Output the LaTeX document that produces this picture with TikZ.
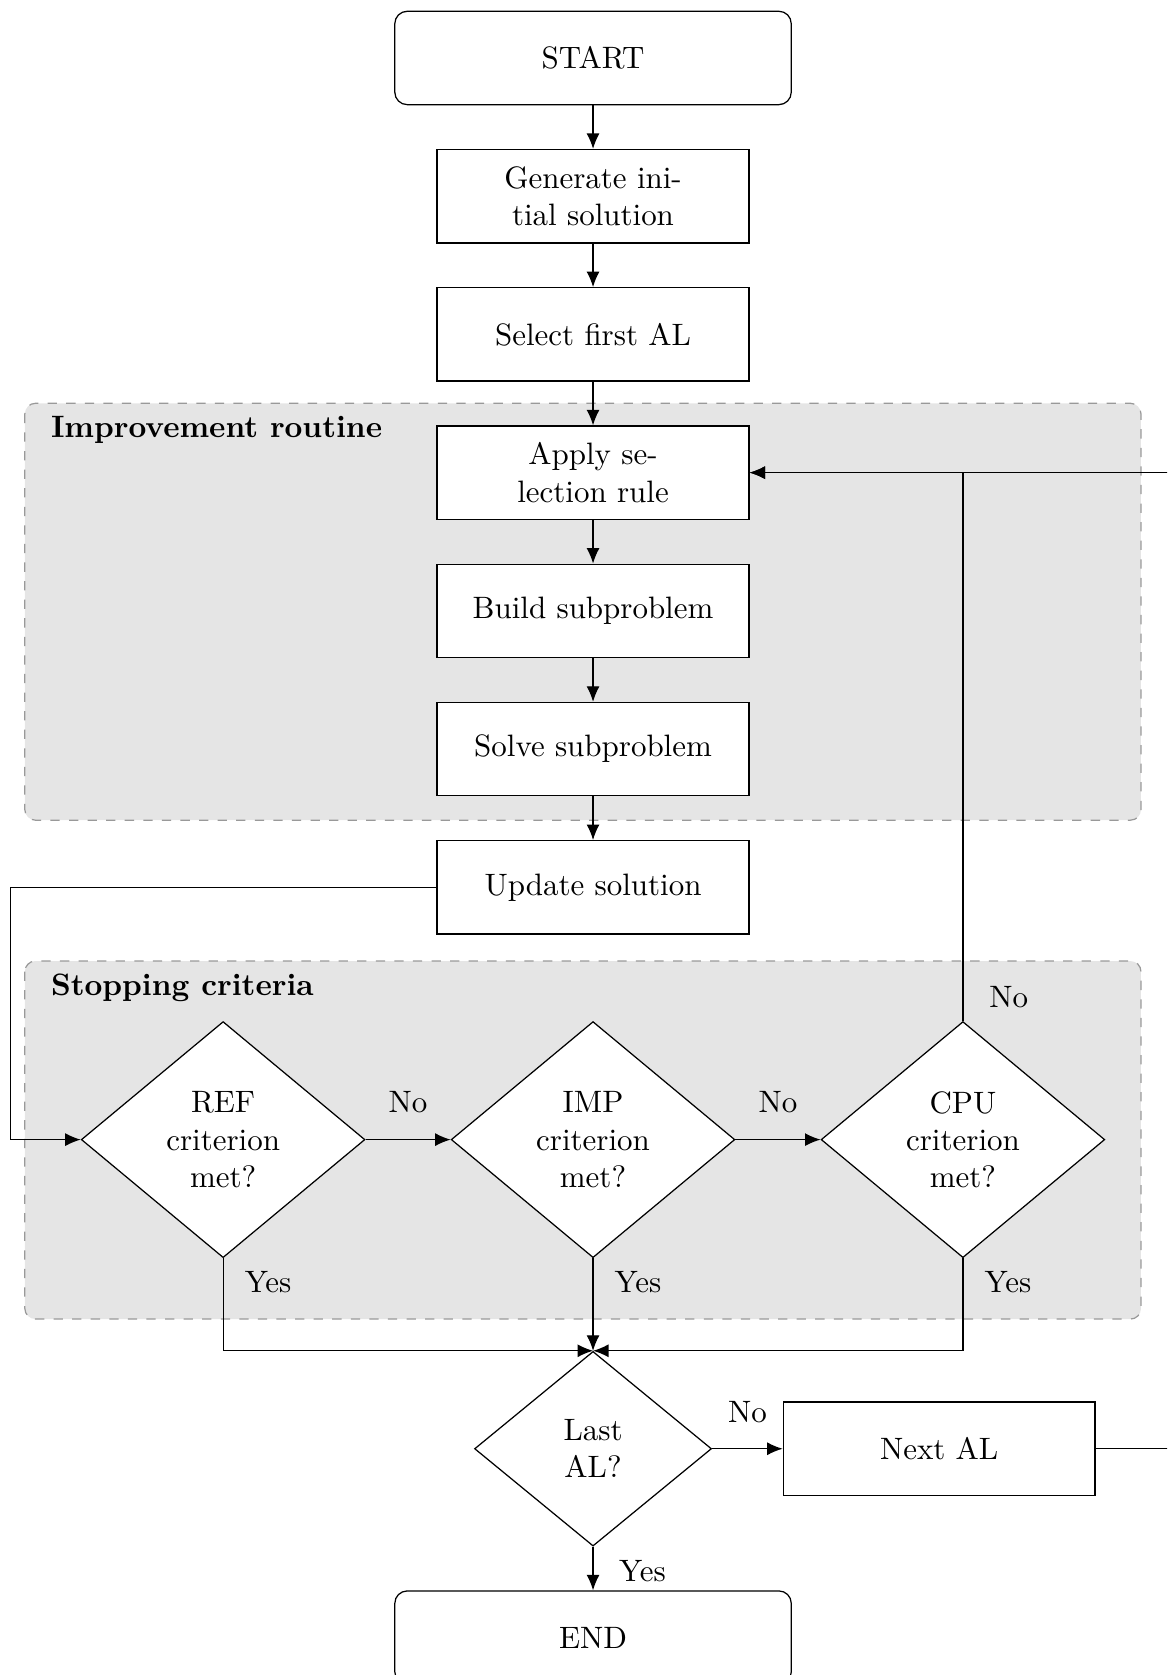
\documentclass[tikz,border=0pt]{standalone}
\usepackage{tikz}
\usetikzlibrary{shapes, arrows, arrows.meta, positioning, calc, backgrounds}

\begin{document}
\begin{tikzpicture} [
    node distance=0.495cm,
    terminal/.style={rectangle, rounded corners, draw=black, fill=white, minimum width=4.5cm, minimum height=1.06cm, text centered},
    process/.style={rectangle, draw=black, fill=white, minimum width=3.54cm, minimum height=1.06cm, align=center},
    decision/.style={diamond, draw=black, fill=white, aspect=1.2, inner sep=0pt, minimum width=3.22cm, minimum height=2.68cm, align=center},
    region/.style={draw=black!40, dashed, fill=black!10, rounded corners=0.12cm},
    regiontitle/.style={font=\bfseries, anchor=north west, inner sep=0pt},
    answer/.style={inner sep=0pt},
    arrow/.style={-{Latex[length=5pt, width=4.2pt]}}
]

% Picture frame (the loop back to the top runs off the right edge)
\useasboundingbox (-6.732,0.658) rectangle (6.516,-18.356);
\clip (-6.732,0.658) rectangle (6.516,-18.356);

% Main column
\node[terminal] (start) at (0,0) {START};
\node[process, below=of start] (gen) {Generate ini-\\tial solution};
\node[process, below=of gen] (select) {Select first AL};
\node[process, below=of select] (apply) {Apply se-\\lection rule};
\node[process, below=of apply] (build) {Build subproblem};
\node[process, below=of build] (solve) {Solve subproblem};
\node[process, below=of solve] (update) {Update solution};

% Stopping criteria
\node[decision, below=0.98cm of update] (imp) {IMP\\criterion\\met?};
\node[decision, left=0.965cm of imp] (ref) {REF\\criterion\\met?};
\node[decision, right=0.965cm of imp] (cpu) {CPU\\criterion\\met?};

\node[decision, below=1.05cm of imp, minimum width=2.69cm, minimum height=2.21cm] (last) {Last\\AL?};
\node[process, right=0.8cm of last] (next) {Next AL};
\node[terminal, below=of last] (finish) {END};

% Helper coordinates for the side lines and the grey regions
\coordinate (loopL) at (-6.61,0);
\coordinate (loopR) at (7,0);
\coordinate (regL) at (-6.45,0);
\coordinate (regR) at (6.22,0);

% Grey regions
\begin{scope}[on background layer]
    \draw[region] ($(apply.north -| regL)+(0,0.25)$) rectangle ($(solve.south -| regR)+(0,-0.27)$);
    \draw[region] ($(imp.north -| regL)+(0,0.68)$) rectangle ($(imp.south -| regR)+(0,-0.69)$);
\end{scope}
\node[regiontitle] at ($(apply.north -| regL)+(0.29,0.11)$) {Improvement routine};
\node[regiontitle] at ($(imp.north -| regL)+(0.29,0.54)$) {Stopping criteria};

% Arrows
\draw[arrow] (start) -- (gen);
\draw[arrow] (gen) -- (select);
\draw[arrow] (select) -- (apply);
\draw[arrow] (apply) -- (build);
\draw[arrow] (build) -- (solve);
\draw[arrow] (solve) -- (update);
\draw[arrow] (update.west) -- (update.west -| loopL) |- (ref.west);
\draw[arrow] (ref.east) -- node[midway, answer, above=0.3cm] {No} (imp.west);
\draw[arrow] (imp.east) -- node[midway, answer, above=0.3cm] {No} (cpu.west);
\draw[arrow] (cpu.north) |- (apply.east);
\draw[arrow] (ref.south) |- (last.north);
\draw[arrow] (imp.south) -- (last.north);
\draw[arrow] (cpu.south) |- (last.north);
\draw[arrow] (last.east) -- node[midway, answer, above=0.29cm] {No} (next.west);
\draw[arrow] (last.south) -- (finish.north);
\draw[arrow] (next.east) -- (next.east -| loopR) |- (apply.east);

% Answers
\node[answer] at ($(cpu.north)+(0.52,0.27)$) {No};
\node[answer] at ($(ref.south)+(0.51,-0.27)$) {Yes};
\node[answer] at ($(imp.south)+(0.51,-0.27)$) {Yes};
\node[answer] at ($(cpu.south)+(0.51,-0.27)$) {Yes};
\node[answer] at ($(last.south)+(0.56,-0.28)$) {Yes};

\end{tikzpicture}
\end{document}
